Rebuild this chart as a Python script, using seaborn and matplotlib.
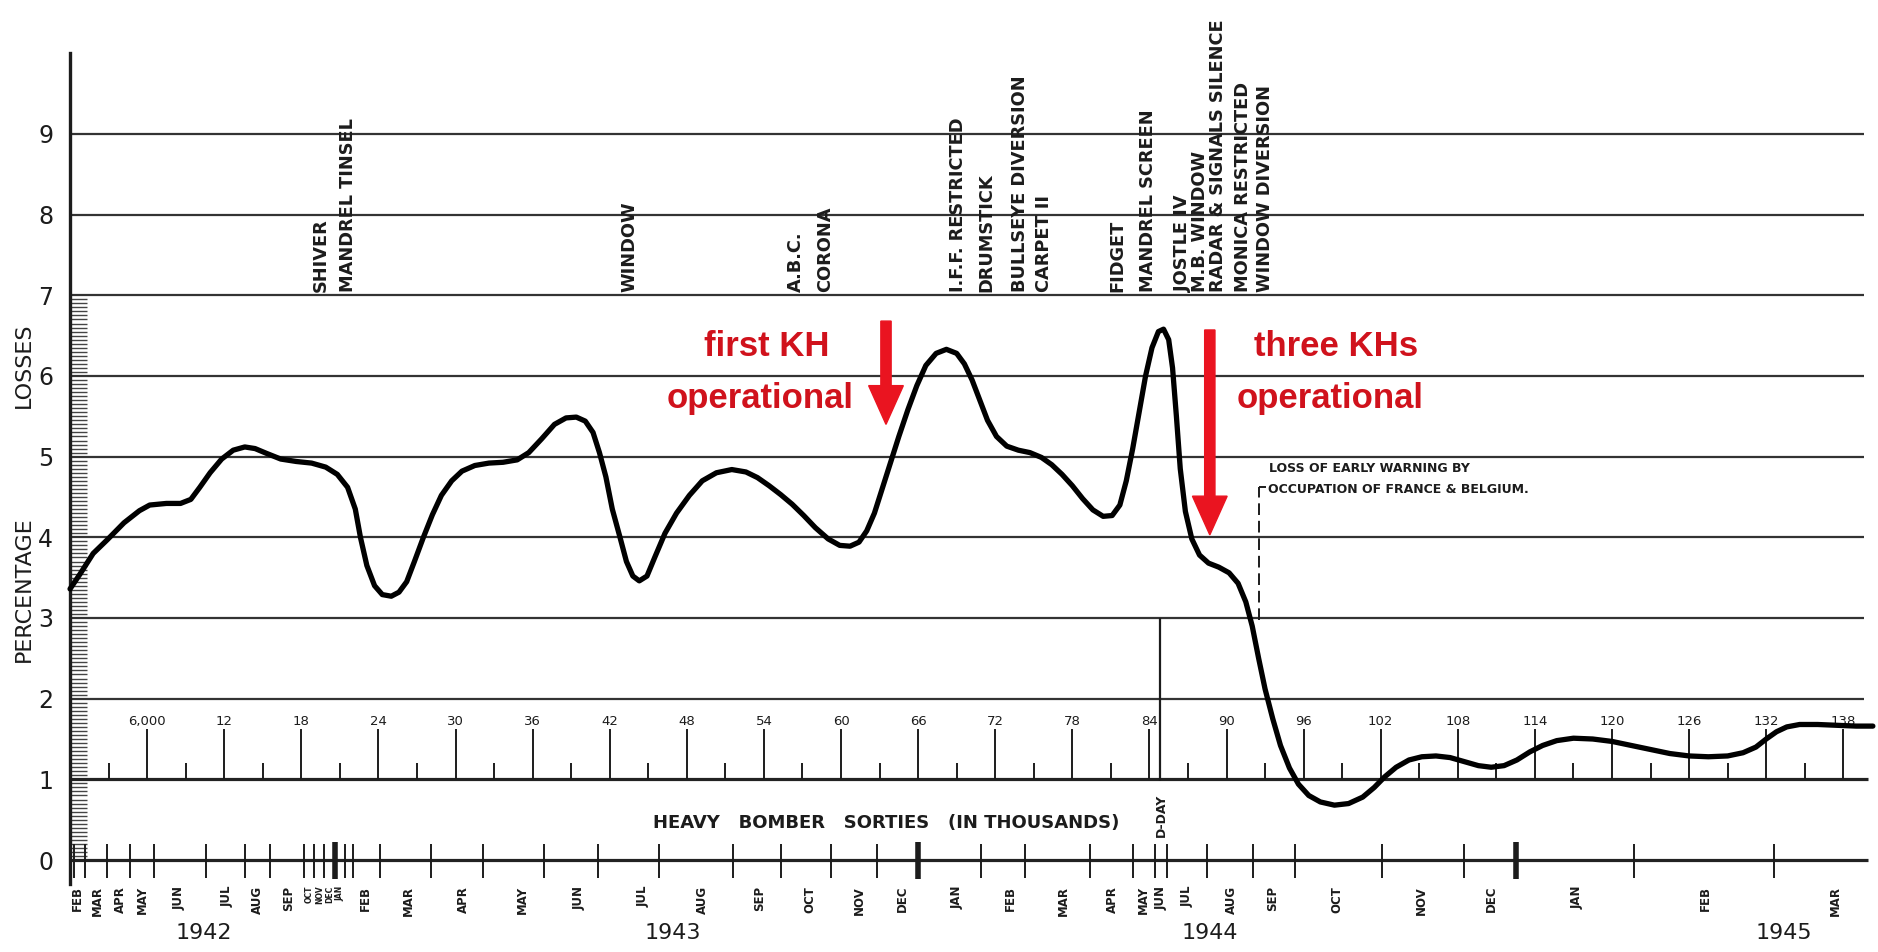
import matplotlib
matplotlib.use("Agg")
import matplotlib.pyplot as plt
import numpy as np
import pandas as pd
import seaborn as sns

# Percentage losses against cumulative heavy bomber sorties (thousands)
sorties = [0.0, 0.8, 1.8, 2.9, 4.2, 5.4, 6.2, 7.5, 8.6, 9.4, 10.1, 10.9, 11.8, 12.7,
           13.6, 14.4, 15.3, 16.4, 17.6, 18.8, 19.9, 20.8, 21.6, 22.2, 22.6, 23.1,
           23.7, 24.3, 25.0, 25.6, 26.2, 26.8, 27.5, 28.2, 28.9, 29.7, 30.5, 31.5,
           32.6, 33.7, 34.8, 35.7, 36.7, 37.7, 38.6, 39.4, 40.1, 40.7, 41.2, 41.7,
           42.2, 42.8, 43.3, 43.8, 44.3, 44.9, 45.5, 46.3, 47.2, 48.2, 49.2, 50.3,
           51.5, 52.6, 53.5, 54.4, 55.3, 56.2, 57.1, 58.0, 59.0, 59.9, 60.7, 61.4,
           62.0, 62.6, 63.2, 63.8, 64.5, 65.2, 65.9, 66.6, 67.4, 68.2, 69.0, 69.6,
           70.2, 70.8, 71.4, 72.1, 72.9, 73.8, 74.7, 75.6, 76.4, 77.2, 78.0, 78.8,
           79.6, 80.4, 81.1, 81.7, 82.2, 82.7, 83.2, 83.7, 84.2, 84.7, 85.1, 85.5,
           85.8, 86.1, 86.4, 86.8, 87.3, 87.9, 88.6, 89.4, 90.2, 90.9, 91.5, 92.0,
           92.5, 93.0, 93.6, 94.2, 94.9, 95.6, 96.4, 97.3, 98.4, 99.5, 100.6, 101.5,
           102.3, 103.2, 104.2, 105.2, 106.3, 107.4, 108.5, 109.6, 110.6, 111.6,
           112.6, 113.6, 114.6, 115.7, 117.0, 118.5, 120.0, 121.5, 123.0, 124.5,
           126.0, 127.5, 129.0, 130.2, 131.2, 132.0, 132.8, 133.6, 134.6, 136.0,
           137.5, 139.0, 140.3]
losses = [3.36, 3.55, 3.80, 3.97, 4.18, 4.33, 4.40, 4.42, 4.42, 4.47, 4.62, 4.80, 4.97, 5.08,
          5.12, 5.10, 5.04, 4.97, 4.94, 4.92, 4.87, 4.78, 4.62, 4.35, 4.00, 3.65,
          3.40, 3.29, 3.27, 3.32, 3.45, 3.70, 4.00, 4.28, 4.52, 4.70, 4.82, 4.89,
          4.92, 4.93, 4.96, 5.05, 5.22, 5.40, 5.48, 5.49, 5.44, 5.30, 5.05, 4.75,
          4.35, 4.00, 3.70, 3.52, 3.46, 3.52, 3.75, 4.05, 4.30, 4.52, 4.70, 4.80,
          4.84, 4.81, 4.74, 4.64, 4.53, 4.41, 4.27, 4.12, 3.98, 3.90, 3.89, 3.94,
          4.08, 4.30, 4.60, 4.90, 5.25, 5.58, 5.88, 6.13, 6.28, 6.33, 6.28, 6.15,
          5.95, 5.70, 5.45, 5.25, 5.13, 5.08, 5.05, 4.99, 4.90, 4.78, 4.64, 4.48,
          4.34, 4.26, 4.27, 4.40, 4.70, 5.10, 5.55, 6.00, 6.35, 6.55, 6.58, 6.45,
          6.10, 5.50, 4.85, 4.32, 3.98, 3.78, 3.68, 3.63, 3.56, 3.43, 3.20, 2.90,
          2.50, 2.12, 1.75, 1.42, 1.14, 0.94, 0.80, 0.72, 0.68, 0.70, 0.78, 0.90,
          1.03, 1.15, 1.24, 1.28, 1.29, 1.27, 1.22, 1.17, 1.15, 1.17,
          1.24, 1.34, 1.42, 1.48, 1.51, 1.50, 1.47, 1.42, 1.37, 1.32,
          1.29, 1.28, 1.29, 1.33, 1.40, 1.50, 1.59, 1.65, 1.68, 1.68,
          1.67, 1.66, 1.66]

# Sortie scale drawn along the 1 % line
sortie_major = list(range(6, 139, 6))
sortie_labels = ["6,000"] + [str(v) for v in sortie_major[1:]]
sortie_minor = list(range(3, 139, 6))

# Calendar scale drawn along the 0 line
month_names = ["FEB", "MAR", "APR", "MAY", "JUN", "JUL", "AUG", "SEP", "OCT", "NOV",
               "DEC", "JAN", "FEB", "MAR", "APR", "MAY", "JUN", "JUL", "AUG", "SEP",
               "OCT", "NOV", "DEC", "JAN", "FEB", "MAR", "APR", "MAY", "JUN", "JUL",
               "AUG", "SEP", "OCT", "NOV", "DEC", "JAN", "FEB", "MAR"]
month_pos = [0.6, 2.1, 3.9, 5.6, 8.5, 12.2, 14.6, 17.0, 18.6, 19.4, 20.2, 21.0, 23.0,
             26.3, 30.6, 35.2, 39.6, 44.6, 49.2, 53.7, 57.6, 61.4, 64.8, 69.0, 73.2,
             77.3, 81.1, 83.5, 84.9, 86.9, 90.4, 93.6, 98.6, 105.2, 110.6, 117.3,
             127.3, 137.4]
month_bounds = [0.3, 1.2, 2.9, 4.7, 6.5, 10.6, 13.6, 15.6, 18.2, 19.0, 19.8, 20.6,
                21.4, 22.0, 24.1, 28.1, 32.1, 36.9, 41.1, 45.8, 51.6, 55.3, 59.2,
                62.8, 70.9, 74.3, 79.4, 82.7, 84.4, 85.4, 88.5, 92.1, 95.3, 102.1,
                108.5, 121.7, 132.6]
year_bounds = [20.6, 66.0, 112.5]
year_names = ["1942", "1943", "1944", "1945"]
year_pos = [10.4, 46.9, 88.7, 133.4]

# Radio countermeasures introduced
cm_names = ["SHIVER", "MANDREL TINSEL", "WINDOW", "A.B.C.", "CORONA",
            "I.F.F. RESTRICTED", "DRUMSTICK", "BULLSEYE DIVERSION", "CARPET II",
            "FIDGET", "MANDREL SCREEN", "JOSTLE IV", "M.B. WINDOW",
            "RADAR & SIGNALS SILENCE", "MONICA RESTRICTED", "WINDOW DIVERSION"]
cm_pos = [19.5, 21.6, 43.5, 56.5, 58.8, 69.1, 71.3, 73.9, 75.8, 81.5, 83.9, 86.6,
          87.9, 89.3, 91.3, 93.0]

# Kammhuber-line notes
kh_lines = [("first KH", 54.2, 6.36), ("operational", 53.7, 5.72),
            ("three KHs", 98.5, 6.36), ("operational", 98.1, 5.72)]
kh_arrow_x = [63.5, 88.7]
kh_arrow_top = [6.68, 6.57]
kh_arrow_tip = [5.40, 4.03]

dday_pos = 84.8
warning_pos = 92.5

red = "#ea1420"
red_text = "#d0121c"
ink = "#1c1c1c"

sns.set_theme(style="white")
plt.rcParams["font.family"] = ["DejaVu Sans"]

fig = plt.figure(figsize=(18.78, 9.52), dpi=100)
ax = fig.add_axes([0, 0, 1, 1])
ax.set_xlim(-5.45, 140.7)
ax.set_ylim(-1.14, 10.66)
for side in ["top", "right", "bottom"]:
    ax.spines[side].set_visible(False)
ax.spines["left"].set_position(("data", 0))
ax.spines["left"].set_bounds(-0.3, 10.0)
ax.spines["left"].set_linewidth(2.4)
ax.spines["left"].set_color(ink)
ax.set_xticks([])
ax.set_yticks(range(10))
ax.set_yticklabels([str(v) for v in range(10)], fontsize=17, color=ink)
ax.set_yticks(np.arange(0, 7.001, 0.05), minor=True)
ax.tick_params(axis="y", which="major", length=0, pad=12)
ax.tick_params(axis="y", which="minor", direction="in", length=12, width=1.0,
               color="#444444", left=True)

# ruled lines
ax.hlines(range(2, 10), 0, 139.6, color="#333333", lw=1.6, zorder=1)
ax.hlines([0, 1], 0, 139.9, color="#222222", lw=2.3, zorder=1)

# sortie scale
ax.vlines(sortie_major, 1, 1.62, color=ink, lw=1.4, zorder=1)
ax.vlines(sortie_minor, 1, 1.2, color=ink, lw=1.4, zorder=1)
for s, lab in zip(sortie_major, sortie_labels):
    ax.text(s, 1.72, lab, ha="center", va="center", fontsize=9.5, color=ink)
ax.text(63.5, 0.46, "HEAVY   BOMBER   SORTIES   (IN THOUSANDS)", ha="center",
        va="center", fontsize=13, fontweight="bold", color=ink)

# calendar scale; months squeezed by few sorties get a smaller face
ax.vlines(month_bounds, -0.22, 0.2, color=ink, lw=1.4, zorder=1)
ax.vlines(year_bounds, -0.24, 0.22, color=ink, lw=4.0, zorder=1)
mp = np.array(month_pos)
gaps = np.minimum(np.diff(mp, prepend=-np.inf), np.diff(mp, append=np.inf))
for s, lab, g in zip(month_pos, month_names, gaps):
    ax.text(s, -0.32, lab, rotation=90, ha="center", va="top",
            fontsize=8.5 if g > 1.0 else 5.5, fontweight="bold", color=ink)
for s, lab in zip(year_pos, year_names):
    ax.text(s, -0.9, lab, ha="center", va="center", fontsize=16, color=ink)

# axis title
ax.text(-3.6, 3.36, "PERCENTAGE", rotation=90, ha="center", va="center",
        fontsize=16, color=ink)
ax.text(-3.6, 6.13, "LOSSES", rotation=90, ha="center", va="center",
        fontsize=16, color=ink)

# countermeasure labels
for s, lab in zip(cm_pos, cm_names):
    ax.text(s, 7.04, lab, rotation=90, ha="center", va="bottom", fontsize=12.8,
            fontweight="bold", color=ink)

# loss curve
df = pd.DataFrame({"sorties": sorties, "losses": losses})
sns.lineplot(data=df, x="sorties", y="losses", ax=ax, color="black", lw=3.8,
             zorder=4)
ax.set_xlabel("")
ax.set_ylabel("")

# D-Day marker
ax.vlines(dday_pos, 0.98, 3.0, color=ink, lw=1.6, zorder=2)
ax.text(dday_pos + 0.1, 0.55, "D-DAY", rotation=90, ha="center", va="center",
        fontsize=9, fontweight="bold", color=ink,
        bbox=dict(facecolor="white", edgecolor="none", pad=0.5))

# loss of early warning note
ax.vlines(warning_pos, 2.97, 4.62, color=ink, lw=1.4, linestyles=(0, (6, 3)),
          zorder=2)
ax.hlines(4.62, warning_pos, warning_pos + 0.55, color=ink, lw=1.4, zorder=2)
ax.text(93.3, 4.85, "LOSS OF EARLY WARNING BY", ha="left", va="center",
        fontsize=9, fontweight="bold", color=ink)
ax.text(93.2, 4.59, "OCCUPATION OF FRANCE & BELGIUM.", ha="left", va="center",
        fontsize=9, fontweight="bold", color=ink)

# Kammhuber notes and arrows
for txt, tx, ty in kh_lines:
    ax.text(tx, ty, txt, ha="center", va="center", fontsize=25,
            fontweight="bold", color=red_text,
            family=["Liberation Sans", "DejaVu Sans"])
for x, top, tip in zip(kh_arrow_x, kh_arrow_top, kh_arrow_tip):
    ax.arrow(x, top, 0, tip - top, width=0.8, head_width=2.7, head_length=0.48,
             length_includes_head=True, color=red, zorder=5)

fig.savefig("out.png", dpi=100, facecolor="white")
